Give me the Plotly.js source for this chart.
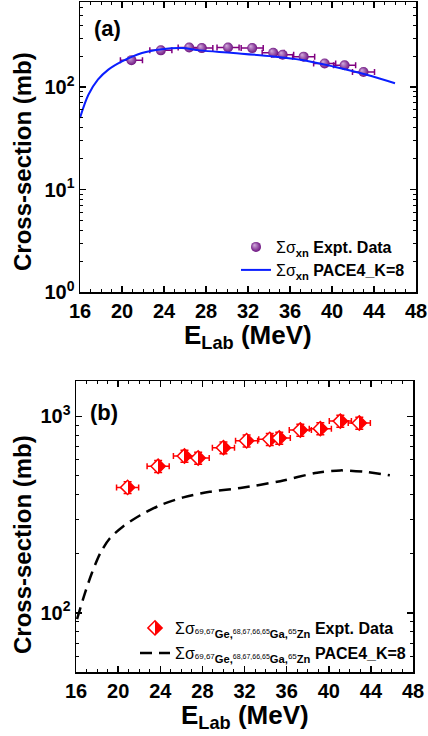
<!DOCTYPE html>
<html><head><meta charset="utf-8">
<script src="https://cdn.plot.ly/plotly-3.0.1.min.js"></script>
<style>html,body{margin:0;padding:0;background:#fff}#plot{width:428px;height:736px}</style>
</head><body><div id="plot"></div>
<script>
// Panel (a) experimental data
var aE = [20.9, 23.7, 26.4, 27.6, 30.1, 32.4, 34.4, 35.3, 37.3, 39.3, 41.2, 43.0];
var aSig = [183, 228, 243, 240, 243, 240, 216, 207, 198, 170, 163, 140];
var aEerr = [1.05, 1.05, 1.05, 1.05, 1.05, 1.05, 1.05, 1.05, 1.05, 1.05, 1.05, 1.05];
// Panel (a) PACE4 curve
var aCurveE = [16, 16.8, 17.7, 18.7, 20.0, 21.9, 23.8, 25.7, 27.4, 30.6, 34.4, 37.0, 40.1, 43.3, 46.0];
var aCurveSig = [50, 84, 118, 148, 178, 215, 234, 240, 228, 215, 199, 185, 159, 132, 109];
// Panel (b) experimental data
var bE = [20.9, 23.8, 26.3, 27.6, 30.0, 32.2, 34.4, 35.3, 37.3, 39.2, 41.1, 42.9];
var bSig = [435, 557, 628, 614, 693, 752, 764, 776, 852, 866, 946, 925];
var bEerr = [1.05, 1.05, 1.05, 1.05, 1.05, 1.05, 1.05, 1.05, 1.05, 1.05, 1.05, 1.05];
// Panel (b) PACE4 curve
var bCurveE = [16.1, 16.85, 17.5, 18.3, 19.2, 20.5, 22.1, 24.0, 26.2, 28.7, 31.6, 35.4, 38.9, 41.1, 43.6, 45.8];
var bCurveSig = [93, 126, 159, 201, 239, 276, 314, 353, 387, 413, 432, 468, 517, 531, 521, 501];
// Tick labels
var xTicks = [16, 20, 24, 28, 32, 36, 40, 44, 48];
var aYTickVals = [1, 10, 100];
var aYTickText = ['10<sup>0</sup>', '10<sup>1</sup>', '10<sup>2</sup>'];
var bYTickVals = [100, 1000];
var bYTickText = ['10<sup>2</sup>', '10<sup>3</sup>'];
var aMinor = [2,3,4,5,6,7,8,9,20,30,40,50,60,70,80,90,200,300,400,500,600];
var bMinor = [60,70,80,90,200,300,400,500,600,700,800,900];

var FONT = 'Liberation Sans, Arial, sans-serif';
var legA = "<span style='font-weight:normal'>Σσ</span><sub>xn</sub> ";
var isoLabel = "<span style='font-weight:normal'>Σσ<span style='font-size:8px'>69,67</span></span><sub>Ge,</sub><span style='font-size:7px;font-weight:normal'>68,67,66,65</span><sub>Ga,</sub><span style='font-size:8px;font-weight:normal'>65</span><sub>Zn</sub> ";

var traces = [
  {x: aE, y: aSig, type: 'scatter', mode: 'markers', xaxis: 'x', yaxis: 'y',
   name: legA + 'Expt. Data', legend: 'legend',
   marker: {symbol: 'circle', size: 10, color: '#66087a', gradient: {type: 'radial', color: '#d4aede'}, line: {width: 0}},
   error_x: {type: 'data', array: aEerr, visible: true, color: '#800080', thickness: 1.5, width: 3}},
  {x: aCurveE, y: aCurveSig, type: 'scatter', mode: 'lines', xaxis: 'x', yaxis: 'y',
   name: legA + 'PACE4_K=8', legend: 'legend2',
   line: {color: '#0a1eff', width: 2, shape: 'spline', smoothing: 1}},
  {x: bE, y: bSig, type: 'scatter', mode: 'markers', xaxis: 'x2', yaxis: 'y2',
   name: isoLabel + 'Expt. Data', legend: 'legend3',
   marker: {symbol: 'diamond', size: 11, color: '#ffffff', gradient: {type: 'horizontal', color: '#ff0000'}, line: {width: 1.5, color: '#ff0000'}},
   error_x: {type: 'data', array: bEerr, visible: true, color: '#ff0000', thickness: 1.5, width: 3},
   error_y: {type: 'percent', value: 7, visible: true, color: '#ff0000', thickness: 1.5, width: 4}},
  {x: bCurveE, y: bCurveSig, type: 'scatter', mode: 'lines', xaxis: 'x2', yaxis: 'y2',
   name: isoLabel + 'PACE4_K=8', legend: 'legend4',
   line: {color: '#000000', width: 2.5, dash: '12px,7px', shape: 'spline', smoothing: 0.8}}
];

function xax(domain, anchor) {
  return {domain: domain, anchor: anchor, range: [16, 48], tickvals: xTicks, ticks: 'inside', ticklen: 6, tickwidth: 1.5,
    tickcolor: '#000', showline: true, linecolor: '#000', linewidth: 1.5, mirror: 'ticks', showgrid: false, zeroline: false,
    tickfont: {family: FONT, size: 20, color: '#000', weight: 'bold'},
    minor: {dtick: 1, ticks: 'inside', ticklen: 3, tickwidth: 1, tickcolor: '#000', showgrid: false}};
}
function yax(domain, anchor, range, tv, tt, minor) {
  return {domain: domain, anchor: anchor, type: 'log', range: range, tickvals: tv, ticktext: tt, ticks: 'inside', ticklen: 6, tickwidth: 1.5,
    tickcolor: '#000', showline: true, linecolor: '#000', linewidth: 1.5, mirror: 'ticks', showgrid: false, zeroline: false,
    tickfont: {family: FONT, size: 20, color: '#000', weight: 'bold'},
    minor: {tickvals: minor, ticks: 'inside', ticklen: 3, tickwidth: 1, tickcolor: '#000', showgrid: false}};
}
function leg(x, y) {
  return {x: x, y: y, xanchor: 'left', yanchor: 'middle', bgcolor: 'rgba(0,0,0,0)', borderwidth: 0,
    font: {family: FONT, size: 16, color: '#000', weight: 'bold'}};
}
function ann(text, x, y, size, angle) {
  return {text: text, xref: 'paper', yref: 'paper', x: x, y: y, xanchor: 'center', yanchor: 'middle', showarrow: false,
    textangle: angle || 0, font: {family: FONT, size: size, color: '#000', weight: 'bold'}};
}

var W = 428, H = 736;
var layout = {
  width: W, height: H, margin: {l: 0, r: 0, t: 0, b: 0}, paper_bgcolor: '#fff', plot_bgcolor: '#fff',
  showlegend: true,
  xaxis: xax([80 / W, 416 / W], 'y'),
  yaxis: yax([1 - 292 / H, 1 - 2 / H], 'x', [0, 2.83], aYTickVals, aYTickText, aMinor),
  xaxis2: xax([76 / W, 413 / W], 'y2'),
  yaxis2: yax([1 - 672 / H, 1 - 381 / H], 'x2', [Math.log10(50), 3.18], bYTickVals, bYTickText, bMinor),
  legend: leg(236 / W, 1 - 247 / H),
  legend2: leg(236 / W, 1 - 270 / H),
  legend3: leg(135 / W, 1 - 628 / H),
  legend4: leg(135 / W, 1 - 653 / H),
  annotations: [
    ann('(a)', 107 / W, 1 - 29 / H, 22),
    ann('(b)', 104 / W, 1 - 412 / H, 22),
    ann('Cross-section (mb)', 22 / W, 1 - 162 / H, 24, -90),
    ann('Cross-section (mb)', 22 / W, 1 - 545 / H, 24, -90),
    ann('E<sub>Lab</sub> (MeV)', 248 / W, 1 - 336 / H, 26),
    ann('E<sub>Lab</sub> (MeV)', 245 / W, 1 - 716 / H, 26)
  ]
};
Plotly.newPlot('plot', traces, layout, {staticPlot: true, displayModeBar: false}).then(function () {
  // sharpen the half-filled diamond gradient and shift the sphere highlight
  document.querySelectorAll('linearGradient').forEach(function (g) {
    g.querySelectorAll('stop').forEach(function (s) { s.setAttribute('offset', '50%'); });
  });
  document.querySelectorAll('radialGradient').forEach(function (g) {
    g.setAttribute('cx', '50%'); g.setAttribute('cy', '50%');
    g.setAttribute('fx', '32%'); g.setAttribute('fy', '30%'); g.setAttribute('r', '55%');
  });
});
</script></body></html>
